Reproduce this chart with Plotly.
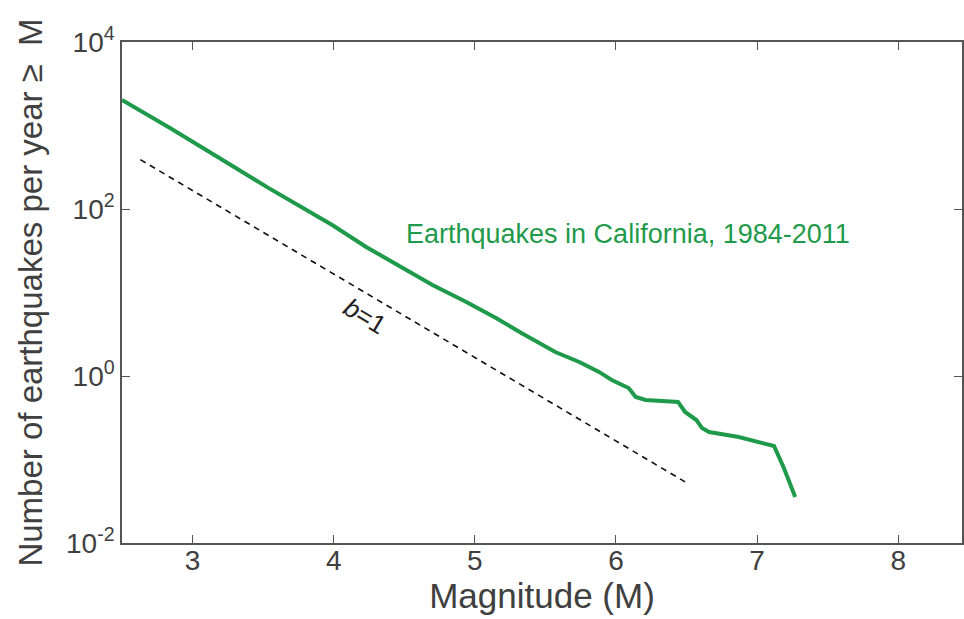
import plotly.graph_objects as go

# Observed cumulative rate (Earthquakes in California, 1984-2011)
magnitude = [2.50, 2.84, 3.19, 3.54, 3.88, 3.99, 4.23, 4.46, 4.70, 4.94, 5.15,
             5.33, 5.57, 5.74, 5.88, 5.97, 6.09, 6.14, 6.21, 6.44, 6.49, 6.57,
             6.61, 6.66, 6.87, 7.12, 7.19, 7.27]
rate = [2018, 933, 408, 178, 82.4, 64.3, 35.1, 21.3, 12.3, 7.69, 4.95,
        3.27, 1.94, 1.47, 1.12, 0.895, 0.718, 0.561, 0.516, 0.489, 0.371, 0.297,
        0.238, 0.213, 0.186, 0.145, 0.079, 0.0356]

# Reference slope b=1 (endpoints)
ref_mag = [2.63, 6.49]
ref_rate = [390, 0.054]

x_ticks = [3, 4, 5, 6, 7, 8]
y_tickvals = [1e-2, 1e0, 1e2, 1e4]
y_ticktext = ["10<sup>-2</sup>", "10<sup>0</sup>", "10<sup>2</sup>", "10<sup>4</sup>"]

GREEN = "#1f9a4b"
GRAY = "#555555"
TXT = "#404040"
FONT = "Liberation Sans, Arial, Helvetica, sans-serif"

fig = go.Figure()
fig.add_trace(go.Scatter(x=ref_mag, y=ref_rate, mode="lines",
                         line=dict(color="#111111", width=1.6, dash="6px,5px"),
                         showlegend=False, hoverinfo="skip"))
fig.add_trace(go.Scatter(x=magnitude, y=rate, mode="lines",
                         line=dict(color=GREEN, width=4),
                         showlegend=False))

fig.add_annotation(x=4.495, y=1.70, xref="x", yref="y", text="Earthquakes in California, 1984-2011",
                   showarrow=False, xanchor="left", yanchor="middle",
                   font=dict(family=FONT, size=27, color=GREEN))
fig.add_annotation(x=4.22, y=0.72, xref="x", yref="y", text="<i>b</i>=1",
                   showarrow=False, textangle=31, xanchor="center", yanchor="middle",
                   font=dict(family=FONT, size=26, color="#222222"))

fig.update_layout(
    width=964, height=619,
    margin=dict(l=122, r=0, t=42, b=76),
    plot_bgcolor="white", paper_bgcolor="white",
    font=dict(family=FONT, color=TXT),
    xaxis=dict(range=[2.5, 8.452], tickvals=x_ticks, ticks="inside", ticklen=8,
               tickcolor=GRAY, showline=True, linecolor=GRAY, linewidth=1.5,
               mirror="ticks", showgrid=False, zeroline=False, ticklabelstandoff=-8,
               tickfont=dict(size=28, color=TXT),
               title=dict(text="Magnitude (M)", font=dict(size=35, color=TXT), standoff=2)),
    yaxis=dict(type="log", range=[-2, 4], tickvals=y_tickvals, ticktext=y_ticktext,
               ticks="inside", ticklen=8, tickcolor=GRAY, showline=True, linecolor=GRAY,
               linewidth=1.5, mirror="ticks", showgrid=False, zeroline=False,
               tickfont=dict(size=28, color=TXT),
               title=dict(text="Number of earthquakes per year \u2265\u00a0 M",
                          font=dict(size=33, color=TXT), standoff=14)),
)

fig.write_html("out.html", config={"displayModeBar": False},
               post_script="document.body.style.margin='0';document.body.style.overflow='hidden';")
